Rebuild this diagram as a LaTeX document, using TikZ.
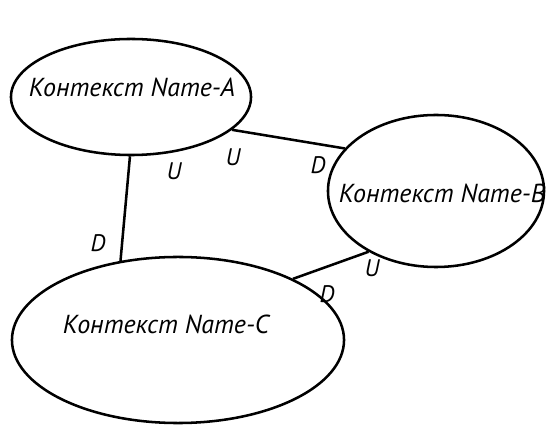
\documentclass[tikz,border=0pt]{standalone}
\usepackage{fontspec}
\setmainfont{PT Sans}
\usetikzlibrary{shapes.geometric}
\begin{document}
\begin{tikzpicture}[x=0.025cm, y=-0.025cm, line width=1.8pt]
\tikzstyle{ctx}=[draw, ellipse, inner sep=0pt]
\tikzstyle{tx}=[draw=none, fill=none, font=\fontsize{18.5}{20}\selectfont\itshape]
\tikzstyle{ud}=[draw=none, fill=none, font=\fontsize{17}{19}\selectfont\itshape]
\useasboundingbox (0,0) rectangle (547,425);

\node[ctx, minimum width=6cm, minimum height=2.9cm] (A) at (131,97) {};
\node[ctx, minimum width=5.4cm, minimum height=3.8cm] (B) at (436,191) {};
\node[ctx, minimum width=8.3cm, minimum height=4.15cm] (C) at (178,340) {};

\node[tx] (At) at (132,87) {Контекст Name-A};
\node[tx] (Bt) at (442,193) {Контекст Name-B};
\node[tx] (Ct) at (166,324) {Контекст Name-C};

\draw (A.-18) -- (B.155);
\draw (A.-91) -- (C.126);
\draw (B.-138) -- (C.28);

% upstream / downstream marks
\node[ud] (uAB) at (233,157) {U};
\node[ud] (dAB) at (318,165) {D};
\node[ud] (uAC) at (174,171) {U};
\node[ud] (dAC) at (98,243) {D};
\node[ud] (uBC) at (372,268) {U};
\node[ud] (dBC) at (327,294) {D};
\end{tikzpicture}
\end{document}
